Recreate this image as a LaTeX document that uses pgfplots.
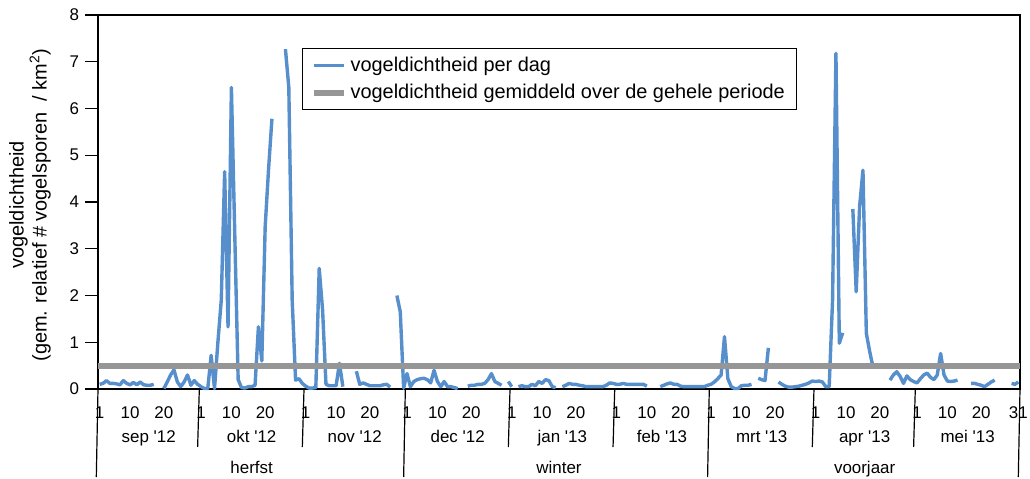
\documentclass[border=0pt]{standalone}
\usepackage{fontspec}
\setmainfont{Liberation Sans}
\usepackage{pgfplots}
\usepackage{pgfplotstable}
\pgfplotsset{compat=1.18}
\definecolor{dagblauw}{RGB}{86,143,203}
\definecolor{gemgrijs}{RGB}{150,150,150}

% vogeldichtheid per dag, dag 1 = 1 sep 2012 ... dag 273 = 31 mei 2013
\pgfplotstableread{
d v
1 0.10
2 0.12
3 0.18
4 0.12
5 0.12
6 0.11
7 0.09
8 0.18
9 0.12
10 0.09
11 0.14
12 0.09
13 0.15
14 0.09
15 0.08
16 0.08
17 0.10
18 nan
19 nan
20 0.01
21 0.15
22 0.30
23 0.41
24 0.15
25 0.05
26 0.15
27 0.30
28 0.08
29 0.18
30 0.10
31 0.05
32 0.01
33 0.01
34 0.72
35 0.01
36 1.00
37 1.90
38 4.65
39 1.33
40 6.45
41 3.30
42 0.20
43 0.03
44 0.02
45 0.05
46 0.05
47 0.08
48 1.33
49 0.60
50 3.47
51 4.70
52 5.78
53 nan
54 nan
55 nan
56 7.27
57 6.45
58 1.90
59 0.19
60 0.22
61 0.12
62 0.06
63 0.02
64 0.02
65 0.03
66 2.58
67 1.69
68 0.10
69 0.07
70 0.07
71 0.07
72 0.55
73 0.05
74 nan
75 nan
76 nan
77 0.38
78 0.10
79 0.13
80 0.10
81 0.07
82 0.07
83 0.07
84 0.07
85 0.09
86 0.10
87 0.04
88 nan
89 2.00
90 1.65
91 0.02
92 0.33
93 0.05
94 0.16
95 0.20
96 0.22
97 0.23
98 0.20
99 0.13
100 0.40
101 0.16
102 0.05
103 0.16
104 0.05
105 0.05
106 0.03
107 0.01
108 nan
109 nan
110 0.06
111 0.08
112 0.08
113 0.10
114 0.10
115 0.12
116 0.20
117 0.33
118 0.16
119 0.12
120 0.08
121 nan
122 0.16
123 0.05
124 nan
125 0.05
126 0.07
127 0.05
128 0.05
129 0.10
130 0.07
131 0.16
132 0.12
133 0.20
134 0.18
135 0.05
136 0.03
137 nan
138 0.05
139 0.08
140 0.12
141 0.10
142 0.10
143 0.08
144 0.07
145 0.05
146 0.05
147 0.05
148 0.05
149 0.05
150 0.05
151 0.08
152 0.13
153 0.12
154 0.10
155 0.10
156 0.12
157 0.10
158 0.10
159 0.10
160 0.10
161 0.10
162 0.10
163 0.06
164 nan
165 nan
166 nan
167 0.05
168 0.08
169 0.11
170 0.13
171 0.10
172 0.10
173 0.06
174 0.05
175 0.05
176 0.05
177 0.05
178 0.05
179 0.05
180 0.05
181 0.08
182 0.10
183 0.15
184 0.22
185 0.30
186 1.12
187 0.22
188 0.05
189 0.01
190 0.01
191 0.07
192 0.08
193 0.08
194 0.10
195 nan
196 0.23
197 0.20
198 0.18
199 0.88
200 nan
201 nan
202 0.15
203 0.10
204 0.06
205 0.04
206 0.04
207 0.05
208 0.06
209 0.08
210 0.10
211 0.13
212 0.17
213 0.16
214 0.17
215 0.15
216 0.05
217 0.05
218 1.90
219 7.18
220 0.98
221 1.20
222 nan
223 nan
224 3.85
225 2.08
226 3.90
227 4.68
228 1.19
229 0.80
230 0.46
231 nan
232 nan
233 nan
234 nan
235 0.19
236 0.30
237 0.37
238 0.27
239 0.12
240 0.28
241 0.20
242 0.16
243 0.13
244 0.22
245 0.30
246 0.34
247 0.25
248 0.20
249 0.30
250 0.76
251 0.30
252 0.17
253 0.16
254 0.17
255 0.19
256 nan
257 nan
258 nan
259 0.12
260 0.12
261 0.10
262 0.08
263 0.05
264 0.10
265 0.15
266 0.19
267 nan
268 nan
269 nan
270 nan
271 0.12
272 0.10
273 0.15
}\perdag

\begin{document}
\begin{tikzpicture}
\path[use as bounding box] (-49bp,-45bp) rectangle (466bp,194.5bp);
\begin{axis}[
  scale only axis,
  width=461bp, height=187bp,
  xmin=0.5, xmax=273.5,
  ymin=0, ymax=8,
  ytick={0,1,...,8},
  xtick={1,10,20,31,40,50,62,71,81,92,101,111,123,132,142,154,163,173,182,191,201,213,222,232,243,252,262,273},
  xticklabels={1,10,20,1,10,20,1,10,20,1,10,20,1,10,20,1,10,20,1,10,20,1,10,20,1,10,20,31},
  x tick style={draw=none},
  ytick pos=left,
  tick align=outside,
  major tick length=6.5bp,
  tick style={black, line width=0.6bp},
  axis line style={black, line width=0.6bp},
  /pgf/number format/assume math mode=true,
  ticklabel style={font=\fontsize{8.5}{10}\selectfont},
  xticklabel style={anchor=base, yshift=-8bp},
  yticklabel style={xshift=0.5bp},
  ylabel={vogeldichtheid\\(gem. relatief \# vogelsporen~~/ km\textsuperscript{2})},
  ylabel style={at={(axis description cs:-0.0738,0.492)}, anchor=center,
    align=center, font=\fontsize{10}{10.5}\selectfont},
  unbounded coords=jump,
  clip=false,
  legend style={at={(axis description cs:0.2213,0.9118)}, anchor=north west,
    draw=black, line width=0.6bp, font=\fontsize{10}{12}\selectfont,
    inner xsep=4bp, inner ysep=2bp, row sep=1bp, cells={anchor=west}},
  legend image code/.code={\draw[#1] (0bp,0bp) -- (15bp,0bp);},
]
\addplot[dagblauw, line width=1.7bp, line join=round] table[x=d, y=v] {\perdag};
\addplot[gemgrijs, line width=3bp] coordinates {(0.5,0.5) (273.5,0.5)};
\legend{vogeldichtheid per dag, vogeldichtheid gemiddeld over de gehele periode}

% maandgrenzen
\draw[black, line width=0.6bp] (axis cs:30.5,0) -- ++(0,-29bp);
\draw[black, line width=0.6bp] (axis cs:61.5,0) -- ++(0,-29bp);
\draw[black, line width=0.6bp] (axis cs:122.5,0) -- ++(0,-29bp);
\draw[black, line width=0.6bp] (axis cs:153.5,0) -- ++(0,-29bp);
\draw[black, line width=0.6bp] (axis cs:212.5,0) -- ++(0,-29bp);
\draw[black, line width=0.6bp] (axis cs:242.5,0) -- ++(0,-29bp);
% seizoensgrenzen
\draw[black, line width=0.6bp] (axis cs:0.5,0) -- ++(0,-44bp);
\draw[black, line width=0.6bp] (axis cs:91.5,0) -- ++(0,-44bp);
\draw[black, line width=0.6bp] (axis cs:181.5,0) -- ++(0,-44bp);
\draw[black, line width=0.6bp] (axis cs:273.5,0) -- ++(0,-44bp);
% maanden
\tikzset{lab/.style={anchor=base, font=\fontsize{8.5}{10}\selectfont, inner sep=0pt}}
\node[lab] at ([yshift=-26.5bp]axis cs:15.5,0) {sep \textquotesingle12};
\node[lab] at ([yshift=-26.5bp]axis cs:46,0) {okt \textquotesingle12};
\node[lab] at ([yshift=-26.5bp]axis cs:76.5,0) {nov \textquotesingle12};
\node[lab] at ([yshift=-26.5bp]axis cs:107,0) {dec \textquotesingle12};
\node[lab] at ([yshift=-26.5bp]axis cs:138,0) {jan \textquotesingle13};
\node[lab] at ([yshift=-26.5bp]axis cs:167.5,0) {feb \textquotesingle13};
\node[lab] at ([yshift=-26.5bp]axis cs:197,0) {mrt \textquotesingle13};
\node[lab] at ([yshift=-26.5bp]axis cs:227.5,0) {apr \textquotesingle13};
\node[lab] at ([yshift=-26.5bp]axis cs:258,0) {mei \textquotesingle13};
% seizoenen
\node[lab] at ([yshift=-42bp]axis cs:46,0) {herfst};
\node[lab] at ([yshift=-42bp]axis cs:137,0) {winter};
\node[lab] at ([yshift=-42bp]axis cs:227.5,0) {voorjaar};
\end{axis}
\end{tikzpicture}
\end{document}
